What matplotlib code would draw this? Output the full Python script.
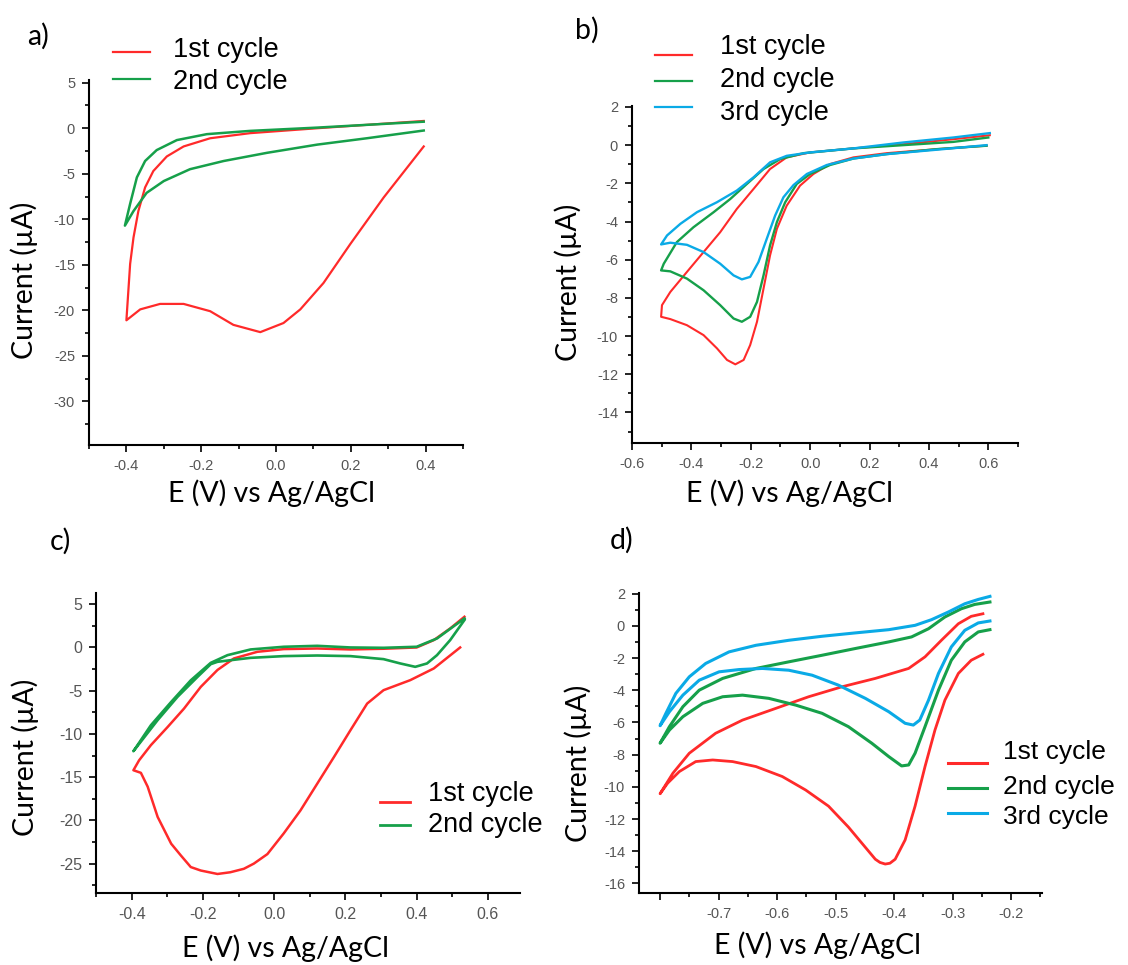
import numpy as np
import matplotlib.pyplot as plt
from matplotlib.lines import Line2D
from matplotlib.ticker import MultipleLocator, FixedLocator, FixedFormatter

plt.rcParams['axes.unicode_minus'] = False
plt.rcParams['font.family'] = ['Liberation Sans', 'DejaVu Sans']

# --- panel a) : cycles (E in V, I in uA)
a_c1_E = [0.395, 0.288, 0.199, 0.127, 0.065, 0.02, -0.042, -0.114, -0.176, -0.247, -0.31, -0.363, -0.40,
          -0.39, -0.381, -0.368, -0.35, -0.328, -0.292, -0.247, -0.176, -0.069, 0.11, 0.395]
a_c1_I = [-2.0, -7.6, -12.7, -17.0, -19.9, -21.4, -22.4, -21.6, -20.1, -19.3, -19.3, -19.9, -21.1,
          -14.9, -12.0, -9.1, -6.5, -4.7, -3.1, -2.0, -1.1, -0.54, 0.0, 0.8]
a_c2_E = [0.395, 0.243, 0.11, -0.024, -0.14, -0.23, -0.30, -0.346, -0.381, -0.404,
          -0.39, -0.372, -0.35, -0.319, -0.265, -0.185, -0.069, 0.11, 0.395]
a_c2_I = [-0.25, -1.1, -1.8, -2.7, -3.6, -4.5, -5.8, -7.1, -9.1, -10.7,
          -8.3, -5.4, -3.6, -2.4, -1.3, -0.65, -0.29, 0.07, 0.72]

# --- panel b)
b_c1_E = [0.594, 0.426, 0.258, 0.146, 0.067, 0.011, -0.034, -0.079, -0.112, -0.135, -0.157, -0.179, -0.202,
          -0.224, -0.252, -0.280, -0.314, -0.359, -0.415, -0.471, -0.502,
          -0.499, -0.471, -0.415, -0.359, -0.303, -0.247, -0.191, -0.135, -0.079, 0.0, 0.146, 0.314, 0.482, 0.605]
b_c1_I = [-0.03, -0.21, -0.42, -0.64, -0.99, -1.51, -2.12, -3.17, -4.38, -5.77, -7.51, -9.25, -10.47,
          -11.25, -11.48, -11.25, -10.64, -9.95, -9.43, -9.11, -8.99,
          -8.38, -7.69, -6.64, -5.60, -4.56, -3.34, -2.30, -1.25, -0.64, -0.38, -0.17, 0.05, 0.31, 0.52]
b_c2_E = [0.594, 0.426, 0.258, 0.146, 0.067, 0.0, -0.045, -0.084, -0.112, -0.135, -0.157, -0.179, -0.202,
          -0.230, -0.258, -0.303, -0.359, -0.415, -0.471, -0.502,
          -0.493, -0.449, -0.393, -0.325, -0.269, -0.213, -0.157, -0.101, -0.022, 0.146, 0.314, 0.482, 0.60]
b_c2_I = [-0.03, -0.21, -0.47, -0.70, -1.04, -1.51, -2.03, -2.99, -4.03, -5.25, -6.82, -8.21, -8.99,
          -9.25, -9.08, -8.38, -7.60, -6.99, -6.61, -6.56,
          -6.21, -5.08, -4.30, -3.51, -2.82, -2.03, -1.25, -0.73, -0.42, -0.17, 0.0, 0.17, 0.40]
b_c3_E = [0.594, 0.426, 0.258, 0.146, 0.056, -0.011, -0.056, -0.090, -0.118, -0.146, -0.174, -0.202,
          -0.230, -0.258, -0.303, -0.359, -0.415, -0.471, -0.502,
          -0.482, -0.437, -0.381, -0.314, -0.247, -0.191, -0.135, -0.079, 0.0, 0.146, 0.314, 0.482, 0.605]
b_c3_I = [0.0, -0.24, -0.47, -0.70, -1.04, -1.51, -2.09, -2.73, -3.69, -4.90, -6.12, -6.90,
          -7.03, -6.82, -6.21, -5.60, -5.22, -5.11, -5.20,
          -4.73, -4.12, -3.51, -2.99, -2.38, -1.69, -0.90, -0.56, -0.38, -0.17, 0.14, 0.40, 0.63]

# --- panel c)
c_c1_E = [0.522, 0.448, 0.382, 0.307, 0.261, 0.214, 0.168, 0.121, 0.074, 0.027, -0.019, -0.057, -0.085,
          -0.123, -0.159, -0.206, -0.234, -0.262, -0.289, -0.327, -0.355, -0.374, -0.395,
          -0.379, -0.346, -0.299, -0.253, -0.206, -0.159, -0.113, -0.047, 0.027, 0.121, 0.214, 0.307,
          0.40, 0.448, 0.494, 0.534]
c_c1_I = [0.0, -2.43, -3.78, -4.94, -6.49, -9.58, -12.66, -15.75, -18.84, -21.5, -23.9, -25.0, -25.6,
          -26.0, -26.2, -25.8, -25.4, -24.05, -22.7, -19.6, -16.1, -14.5, -14.2,
          -13.05, -11.3, -9.2, -7.07, -4.56, -2.6, -1.27, -0.5, -0.19, -0.12, -0.23, -0.15,
          0.0, 0.85, 2.2, 3.55]
c_c2_E = [0.534, 0.494, 0.457, 0.429, 0.396, 0.354, 0.307, 0.214, 0.121, 0.027, -0.066, -0.122, -0.159,
          -0.178, -0.215, -0.271, -0.327, -0.395,
          -0.346, -0.289, -0.234, -0.178, -0.131, -0.066, 0.027, 0.121, 0.214, 0.307, 0.40, 0.457, 0.534]
c_c2_I = [3.17, 0.85, -0.89, -1.85, -2.24, -1.85, -1.35, -1.0, -0.93, -1.0, -1.2, -1.47, -1.66,
          -1.93, -3.4, -5.7, -8.4, -12.0,
          -9.0, -6.3, -3.8, -1.78, -0.89, -0.23, 0.08, 0.19, 0.0, -0.04, 0.08, 1.04, 3.36]

# --- panel d)
d_c1_E = [-0.248, -0.268, -0.290, -0.313, -0.330, -0.347, -0.364, -0.381, -0.398, -0.407, -0.415, -0.424,
          -0.432, -0.455, -0.478, -0.512, -0.551, -0.591, -0.636, -0.676, -0.710, -0.739, -0.767, -0.787,
          -0.80, -0.778, -0.75, -0.705, -0.659, -0.602, -0.546, -0.489, -0.432, -0.375, -0.347, -0.319,
          -0.290, -0.268, -0.248]
d_c1_I = [-1.76, -2.13, -2.95, -4.61, -6.47, -8.74, -11.2, -13.3, -14.5, -14.75, -14.8, -14.7,
          -14.5, -13.5, -12.5, -11.2, -10.2, -9.36, -8.74, -8.43, -8.33, -8.43, -9.05, -9.77,
          -10.43, -9.15, -7.91, -6.67, -5.85, -5.12, -4.40, -3.78, -3.26, -2.64, -1.92, -0.89,
          0.14, 0.6, 0.76]
d_c2_E = [-0.236, -0.256, -0.279, -0.302, -0.324, -0.347, -0.364, -0.375, -0.387, -0.409, -0.438, -0.478,
          -0.523, -0.568, -0.614, -0.659, -0.693, -0.727, -0.761, -0.784, -0.80,
          -0.784, -0.761, -0.733, -0.693, -0.636, -0.580, -0.523, -0.466, -0.409, -0.370, -0.341,
          -0.313, -0.285, -0.262, -0.236]
d_c2_I = [-0.23, -0.37, -0.99, -2.13, -3.99, -6.26, -7.91, -8.64, -8.70, -8.12, -7.29, -6.26,
          -5.43, -4.92, -4.50, -4.30, -4.40, -4.81, -5.64, -6.47, -7.29,
          -6.26, -5.02, -3.99, -3.26, -2.64, -2.23, -1.82, -1.40, -0.99, -0.68, -0.17,
          0.56, 1.07, 1.34, 1.49]
d_c3_E = [-0.236, -0.256, -0.279, -0.302, -0.324, -0.341, -0.356, -0.367, -0.381, -0.409, -0.449, -0.495,
          -0.540, -0.580, -0.625, -0.665, -0.699, -0.733, -0.761, -0.784, -0.80,
          -0.790, -0.773, -0.750, -0.722, -0.682, -0.636, -0.580, -0.523, -0.466, -0.409, -0.364,
          -0.336, -0.307, -0.279, -0.256, -0.236]
d_c3_I = [0.31, 0.19, -0.27, -1.30, -2.95, -4.61, -5.85, -6.16, -6.05, -5.33, -4.50, -3.68,
          -3.06, -2.75, -2.64, -2.71, -2.85, -3.37, -4.30, -5.33, -6.20,
          -5.43, -4.19, -3.16, -2.33, -1.61, -1.20, -0.89, -0.64, -0.43, -0.23, 0.04,
          0.39, 0.87, 1.38, 1.65, 1.84]

labels2 = ['1st cycle', '2nd cycle']
labels3 = ['1st cycle', '2nd cycle', '3rd cycle']
RED, GREEN, BLUE = '#ff2a2a', '#16a04a', '#0aaae6'

W, H = 1128, 965
fig = plt.figure(figsize=(W / 100, H / 100), dpi=100)


def box(l, t, r, b):
    return [l / W, 1 - b / H, (r - l) / W, (b - t) / H]


def style(ax, size=10.5):
    for s in ['top', 'right']:
        ax.spines[s].set_visible(False)
    for s in ['left', 'bottom']:
        ax.spines[s].set_linewidth(1.5)
    ax.tick_params(which='both', direction='out', width=1.2, colors='black',
                   labelcolor='#555555', labelsize=size, pad=5)
    ax.tick_params(which='major', length=5)
    ax.tick_params(which='minor', length=3)


def legend(xs, x_text, y_lines, y_texts, labels, colors, lw, size):
    for yl, yt, lab, col in zip(y_lines, y_texts, labels, colors):
        fig.add_artist(Line2D([xs[0] / W, xs[1] / W], [1 - yl / H, 1 - yl / H],
                              transform=fig.transFigure, color=col, lw=lw))
        fig.text(x_text / W, 1 - yt / H, lab, fontsize=size, va='center', ha='left')


lab_font = dict(family='Lato', fontsize=20.5)

# a)
ax = fig.add_axes(box(89, 80, 463, 445))
ax.plot(a_c1_E, a_c1_I, color=RED, lw=1.6)
ax.plot(a_c2_E, a_c2_I, color=GREEN, lw=1.8)
ax.set_xlim(-0.5, 0.5)
ax.set_ylim(-34.8, 5.3)
ax.xaxis.set_major_locator(FixedLocator([-0.4, -0.2, 0.0, 0.2, 0.4]))
ax.xaxis.set_major_formatter(FixedFormatter(['-0.4', '-0.2', '0.0', '0.2', '0.4']))
ax.xaxis.set_minor_locator(MultipleLocator(0.1))
ax.yaxis.set_major_locator(MultipleLocator(5))
ax.yaxis.set_minor_locator(MultipleLocator(2.5))
style(ax)
legend((113, 150), 173, (52, 79), (50, 82), labels2, [RED, GREEN], 1.6, 19.5)

# b)
ax = fig.add_axes(box(632, 106, 1018, 443))
ax.plot(b_c1_E, b_c1_I, color=RED, lw=1.5)
ax.plot(b_c2_E, b_c2_I, color=GREEN, lw=1.7)
ax.plot(b_c3_E, b_c3_I, color=BLUE, lw=1.7)
ax.set_xlim(-0.6, 0.7)
ax.set_ylim(-15.6, 2.05)
ax.xaxis.set_major_locator(FixedLocator([-0.6, -0.4, -0.2, 0.0, 0.2, 0.4, 0.6]))
ax.xaxis.set_major_formatter(FixedFormatter(['-0.6', '-0.4', '-0.2', '0.0', '0.2', '0.4', '0.6']))
ax.xaxis.set_minor_locator(MultipleLocator(0.1))
ax.yaxis.set_major_locator(MultipleLocator(2))
ax.yaxis.set_minor_locator(MultipleLocator(1))
style(ax)
legend((655, 692), 720, (55, 81, 107), (47, 80, 113), labels3, [RED, GREEN, BLUE], 1.6, 19.5)

# c)
ax = fig.add_axes(box(96, 593, 520, 893))
ax.plot(c_c1_E, c_c1_I, color=RED, lw=1.8)
ax.plot(c_c2_E, c_c2_I, color=GREEN, lw=1.9)
ax.set_xlim(-0.5, 0.69)
ax.set_ylim(-28.4, 6.3)
ax.xaxis.set_major_locator(FixedLocator([-0.4, -0.2, 0.0, 0.2, 0.4, 0.6]))
ax.xaxis.set_major_formatter(FixedFormatter(['-0.4', '-0.2', '0.0', '0.2', '0.4', '0.6']))
ax.xaxis.set_minor_locator(MultipleLocator(0.1))
ax.yaxis.set_major_locator(MultipleLocator(5))
ax.yaxis.set_minor_locator(MultipleLocator(2.5))
style(ax, 11.5)
legend((380, 410), 428, (802, 825), (794, 825), labels2, [RED, GREEN], 2.0, 19.5)

# d)
ax = fig.add_axes(box(639, 593, 1042, 893))
ax.plot(d_c1_E, d_c1_I, color=RED, lw=2.0)
ax.plot(d_c2_E, d_c2_I, color=GREEN, lw=2.2)
ax.plot(d_c3_E, d_c3_I, color=BLUE, lw=2.2)
ax.set_xlim(-0.836, -0.147)
ax.set_ylim(-16.6, 2.05)
ax.xaxis.set_major_locator(FixedLocator([-0.8, -0.7, -0.6, -0.5, -0.4, -0.3, -0.2]))
ax.xaxis.set_major_formatter(FixedFormatter(['', '-0.7', '-0.6', '-0.5', '-0.4', '-0.3', '-0.2']))
ax.xaxis.set_minor_locator(MultipleLocator(0.05))
ax.yaxis.set_major_locator(MultipleLocator(2))
ax.yaxis.set_minor_locator(MultipleLocator(1))
style(ax)
legend((948, 987), 1003, (763, 788, 813), (752, 787, 817), labels3, [RED, GREEN, BLUE], 2.2, 19)

# panel letters and axis titles
for t, x, y in [('a)', 38, 36), ('b)', 587, 30), ('c)', 60, 541), ('d)', 622, 540)]:
    fig.text(x / W, 1 - y / H, t, ha='center', va='center', **lab_font)
for x, y in [(272, 493), (789, 493), (285, 948), (818, 945)]:
    fig.text(x / W, 1 - y / H, 'E (V) vs Ag/AgCl', ha='center', va='center', **lab_font)
for x, y in [(24, 280), (568, 282), (25, 757), (578, 763)]:
    fig.text(x / W, 1 - y / H, 'Current (µA)', ha='center', va='center', rotation=90, **lab_font)

fig.savefig('out.png', dpi=100)
